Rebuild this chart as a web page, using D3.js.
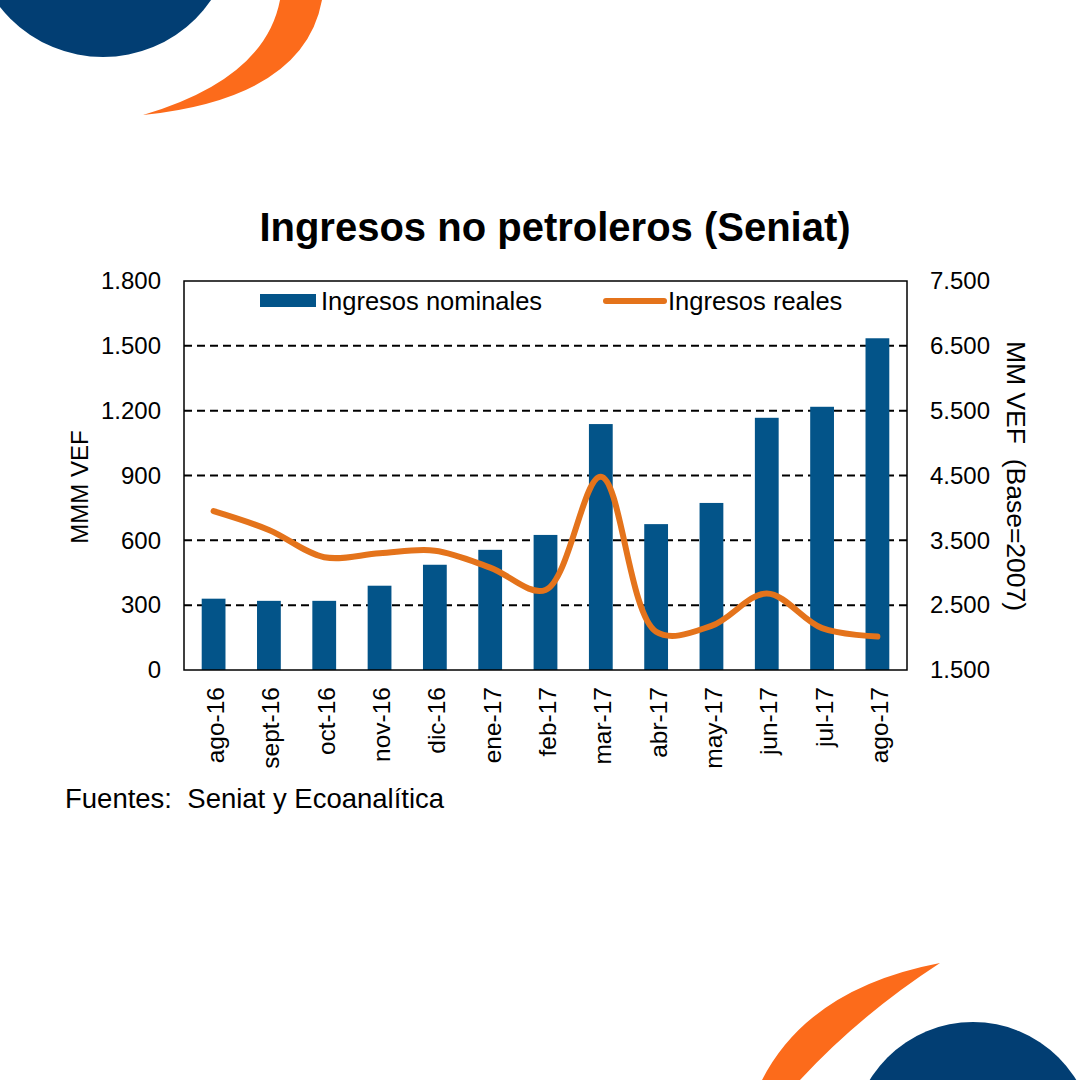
<!DOCTYPE html>
<html><head><meta charset="utf-8">
<script src="https://cdn.jsdelivr.net/npm/d3@7/dist/d3.min.js"></script>
<style>body{margin:0;background:#fff}svg{display:block}text{font-family:"Liberation Sans",Arial,sans-serif;fill:#000}</style>
</head><body><svg id="c" width="1080" height="1080"></svg>
<script>
const categories = ["ago-16","sept-16","oct-16","nov-16","dic-16","ene-17","feb-17","mar-17","abr-17","may-17","jun-17","jul-17","ago-17"];
const nominales = [330, 320, 320, 390, 487, 556, 625, 1138, 675, 773, 1167, 1218, 1535];
const reales = [3950, 3660, 3240, 3300, 3340, 3080, 2735, 4480, 2090, 2180, 2680, 2145, 2015];
const leftTicks = [0, 300, 600, 900, 1200, 1500, 1800];
const rightTicks = [1500, 2500, 3500, 4500, 5500, 6500, 7500];
const fmt = v => d3.format(",")(v).replace(/,/g, ".");

const svg = d3.select("#c");
const navy = "#023e73", orange = "#fc6b1b", barC = "#035489", lineC = "#e4731b";

// decorations
svg.append("circle").attr("cx",103).attr("cy",-74).attr("r",131).attr("fill",navy);
svg.append("path").attr("d","M143,115 Q304,98 322,0 L280,0 Q265,79 143,115 Z").attr("fill",orange);
svg.append("circle").attr("cx",973).attr("cy",1143).attr("r",121).attr("fill",navy);
svg.append("path").attr("d","M940,963 Q809,988 762,1080 L800,1080 Q860,1015 940,963 Z").attr("fill",orange);

const L = 184, R = 907, T = 281, B = 670;
const x = d3.scaleBand().domain(categories).range([L, R]).paddingInner(0.57).paddingOuter(0.32);
const y = d3.scaleLinear().domain([0, 1800]).range([B, T]);
const y2 = d3.scaleLinear().domain([1500, 7500]).range([B, T]);

// grid
svg.append("g").selectAll("line").data(leftTicks.filter(d => d > 0 && d < 1800)).join("line")
  .attr("x1", L).attr("x2", R).attr("y1", d => y(d)).attr("y2", d => y(d))
  .attr("stroke", "#000").attr("stroke-width", 2).attr("stroke-dasharray", "8,5");

// bars
svg.append("g").selectAll("rect").data(nominales).join("rect")
  .attr("x", (d, i) => x(categories[i])).attr("width", x.bandwidth())
  .attr("y", d => y(d)).attr("height", d => B - y(d)).attr("fill", barC);

// line
const line = d3.line().x((d, i) => x(categories[i]) + x.bandwidth() / 2).y(d => y2(d)).curve(d3.curveCatmullRom.alpha(0.5));
svg.append("path").attr("d", line(reales)).attr("fill", "none").attr("stroke", lineC).attr("stroke-width", 6).attr("stroke-linecap","round");

// frame
svg.append("rect").attr("x", L).attr("y", T).attr("width", R - L).attr("height", B - T)
  .attr("fill", "none").attr("stroke", "#000").attr("stroke-width", 1.5);

// axes
const yl = svg.append("g").attr("transform", `translate(${L},0)`)
  .call(d3.axisLeft(y).tickValues(leftTicks).tickFormat(fmt).tickSize(0).tickPadding(23));
yl.select(".domain").remove();
yl.selectAll("text").style("font-size", "24px").style("font-family", '"Liberation Sans",Arial,sans-serif');

const yr = svg.append("g").attr("transform", `translate(${R},0)`)
  .call(d3.axisRight(y2).tickValues(rightTicks).tickFormat(fmt).tickSize(0).tickPadding(23));
yr.select(".domain").remove();
yr.selectAll("text").style("font-size", "24px").style("font-family", '"Liberation Sans",Arial,sans-serif');

const xa = svg.append("g").attr("transform", `translate(0,${B})`)
  .call(d3.axisBottom(x).tickSize(0).tickPadding(0));
xa.select(".domain").remove();
xa.selectAll("text").style("font-size", "24.5px").style("font-family", '"Liberation Sans",Arial,sans-serif')
  .attr("transform", "rotate(-90)").attr("text-anchor", "end").attr("x", -17).attr("y", 2).attr("dy", "0.35em");

// axis titles
svg.append("text").attr("transform", "translate(88,487) rotate(-90)").attr("text-anchor", "middle")
  .style("font-size", "24px").text("MMM VEF");
svg.append("text").attr("transform", "translate(1007,476) rotate(90)").attr("text-anchor", "middle")
  .style("font-size", "26.5px").attr("xml:space","preserve").text("MM VEF  (Base=2007)");

// title
svg.append("text").attr("x", 555).attr("y", 241).attr("text-anchor", "middle")
  .style("font-size", "40px").style("font-weight", "bold").text("Ingresos no petroleros (Seniat)");

// legend
svg.append("rect").attr("x", 260).attr("y", 294).attr("width", 56).attr("height", 13).attr("fill", barC);
svg.append("text").attr("x", 321).attr("y", 310).style("font-size", "25.5px").text("Ingresos nominales");
svg.append("line").attr("x1", 606).attr("x2", 664).attr("y1", 301).attr("y2", 301).attr("stroke", lineC).attr("stroke-width", 6).attr("stroke-linecap","round");
svg.append("text").attr("x", 668).attr("y", 310).style("font-size", "25.5px").text("Ingresos reales");

// source
svg.append("text").attr("x", 65).attr("y", 808).style("font-size", "27.5px").attr("xml:space","preserve").text("Fuentes:  Seniat y Ecoanalítica");
</script></body></html>
